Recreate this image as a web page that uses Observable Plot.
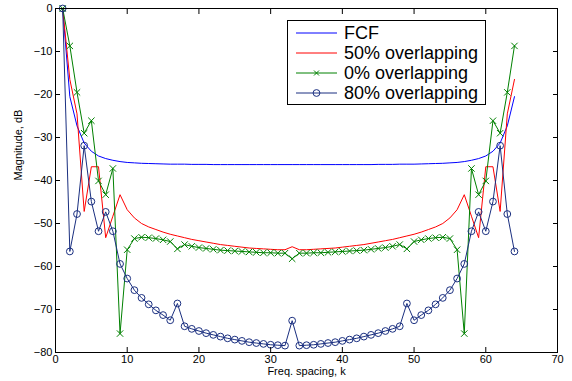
<!DOCTYPE html>
<html>
<head>
<meta charset="utf-8">
<script src="https://cdn.jsdelivr.net/npm/d3@7"></script>
<script src="https://cdn.jsdelivr.net/npm/@observablehq/plot@0.6"></script>
<style>
  body { margin: 0; background: #fff; }
  #wrap { position: relative; width: 572px; height: 381px; font-family: "Liberation Sans", Arial, sans-serif; }
</style>
</head>
<body>
<div id="wrap"></div>
<script>
// Frequency spacing index k = 1..64
const k = d3.range(1, 65);

// FCF (blue)
const fcf = [
  0, -20.5, -27.3, -31.3, -33.2, -34.3, -34.9, -35.3,
  -35.6, -35.8, -35.9, -36.0, -36.05, -36.1, -36.15, -36.2,
  -36.2, -36.2, -36.25, -36.25, -36.25, -36.3, -36.3, -36.3,
  -36.3, -36.3, -36.3, -36.3, -36.3, -36.3, -36.3, -36.3,
  -36.3, -36.3, -36.3, -36.3, -36.3, -36.3, -36.3, -36.3,
  -36.3, -36.3, -36.3, -36.3, -36.25, -36.25, -36.25, -36.2,
  -36.2, -36.2, -36.15, -36.1, -36.05, -36.0, -35.9, -35.8,
  -35.6, -35.3, -34.9, -34.3, -33.2, -31.3, -27.3, -20.5
];

// 50% overlapping (red)
const overlap50 = [
  0, -16.5, -24.5, -47.2, -36.8, -36.8, -53.3, -48.3,
  -43.3, -46.8, -48.7, -50.0, -50.8, -51.4, -52.0, -52.5,
  -52.9, -53.3, -53.7, -54.0, -54.3, -54.6, -54.9, -55.1,
  -55.3, -55.5, -55.7, -55.8, -55.9, -56.0, -56.1, -56.1,
  -55.4, -56.1, -56.1, -56.0, -55.9, -55.8, -55.7, -55.5,
  -55.3, -55.1, -54.9, -54.6, -54.3, -54.0, -53.7, -53.3,
  -52.9, -52.5, -52.0, -51.4, -50.8, -50.0, -48.7, -46.8,
  -43.3, -48.3, -53.3, -36.8, -36.8, -47.2, -24.5, -16.5
];

// 0% overlapping (green, x markers)
const overlap0 = [
  0, -8.7, -19.5, -29.0, -26.1, -40.1, -43.3, -37.2,
  -75.6, -56.1, -53.5, -53.2, -53.3, -53.5, -53.8, -54.2,
  -55.9, -54.9, -55.3, -55.6, -55.8, -56.0, -56.2, -56.3,
  -56.4, -56.5, -56.6, -56.7, -56.8, -56.8, -56.9, -56.9,
  -58.2, -56.9, -56.9, -56.8, -56.8, -56.7, -56.6, -56.5,
  -56.4, -56.3, -56.2, -56.0, -55.8, -55.6, -55.3, -54.9,
  -55.9, -54.2, -53.8, -53.5, -53.3, -53.2, -53.5, -56.1,
  -75.6, -37.2, -43.3, -40.1, -26.1, -29.0, -19.5, -8.7
];

// 80% overlapping (navy, circle markers)
const overlap80 = [
  0, -56.5, -47.8, -31.9, -44.9, -51.8, -47.3, -51.8,
  -59.4, -62.8, -65.5, -67.3, -68.8, -70.2, -71.3, -72.5,
  -68.6, -73.9, -74.5, -75.0, -75.5, -75.9, -76.3, -76.7,
  -77.0, -77.3, -77.6, -77.8, -78.0, -78.2, -78.3, -78.4,
  -72.6, -78.4, -78.3, -78.2, -78.0, -77.8, -77.6, -77.3,
  -77.0, -76.7, -76.3, -75.9, -75.5, -75.0, -74.5, -73.9,
  -68.6, -72.5, -71.3, -70.2, -68.8, -67.3, -65.5, -62.8,
  -59.4, -51.8, -47.3, -51.8, -44.9, -31.9, -47.8, -56.5
];

const seriesNames = ["FCF", "50% overlapping", "0% overlapping", "80% overlapping"];
const seriesColors = ["#0000ff", "#ff0000", "#008000", "#1a2f80"];
const xTicks = [0, 10, 20, 30, 40, 50, 60, 70];
const yTicks = [-80, -70, -60, -50, -40, -30, -20, -10, 0];
const xLabel = "Freq. spacing, k";
const yLabel = "Magnitude, dB";

const rows = vals => k.map((kk, i) => ({k: kk, v: vals[i]}));

const chart = Plot.plot({
  width: 572,
  height: 381,
  marginLeft: 55,
  marginRight: 15,
  marginTop: 8,
  marginBottom: 29,
  style: {fontFamily: "'Liberation Sans', Arial, sans-serif", fontSize: "11px", background: "#fff", color: "#000", overflow: "visible"},
  x: {domain: [0, 70]},
  y: {domain: [-80, 0]},
  marks: [
    Plot.line(rows(fcf), {x: "k", y: "v", stroke: seriesColors[0], strokeWidth: 1}),
    Plot.line(rows(overlap50), {x: "k", y: "v", stroke: seriesColors[1], strokeWidth: 1}),
    Plot.line(rows(overlap0), {x: "k", y: "v", stroke: seriesColors[2], strokeWidth: 1}),
    Plot.dot(rows(overlap0), {x: "k", y: "v", symbol: "times", r: 3, stroke: seriesColors[2], strokeWidth: 1}),
    Plot.line(rows(overlap80), {x: "k", y: "v", stroke: seriesColors[3], strokeWidth: 1}),
    Plot.dot(rows(overlap80), {x: "k", y: "v", symbol: "circle", r: 3.4, stroke: seriesColors[3], fill: "none", strokeWidth: 1}),
    Plot.frame({stroke: "#000", strokeWidth: 1}),
    Plot.axisX({ticks: xTicks, anchor: "bottom", tickSize: -5, tickPadding: 8, label: null}),
    Plot.axisX({ticks: xTicks, anchor: "top", tickSize: -5, tickFormat: () => "", label: null}),
    Plot.axisY({ticks: yTicks, anchor: "left", tickSize: -5, tickPadding: 8, label: null}),
    Plot.axisY({ticks: yTicks, anchor: "right", tickSize: -5, tickFormat: () => "", label: null}),
    Plot.text([yLabel], {text: d => d, frameAnchor: "left", rotate: -90, dx: -37, fontSize: 11}),
    Plot.text([xLabel], {text: d => d, frameAnchor: "bottom", dy: 22.5, fontSize: 11})
  ]
});

const wrap = d3.select("#wrap");
wrap.node().append(chart);

// Legend box (MATLAB style)
const lg = wrap.append("svg")
  .style("position", "absolute").style("left", "287px").style("top", "20px")
  .attr("width", 200).attr("height", 86)
  .style("font-family", "'Liberation Sans', Arial, sans-serif");
lg.append("rect").attr("x", 0.5).attr("y", 0.5).attr("width", 198).attr("height", 84)
  .attr("fill", "#fff").attr("stroke", "#000").attr("stroke-width", 1);
seriesNames.forEach((name, i) => {
  const cy = 13 + i * 20;
  const g = lg.append("g");
  g.append("line").attr("x1", 9).attr("x2", 50).attr("y1", cy).attr("y2", cy)
    .attr("stroke", seriesColors[i]).attr("stroke-width", 1);
  if (i === 2) {
    g.append("path").attr("d", `M${29.5-2.5},${cy-2.5}L${29.5+2.5},${cy+2.5}M${29.5-2.5},${cy+2.5}L${29.5+2.5},${cy-2.5}`)
      .attr("stroke", seriesColors[i]).attr("fill", "none");
  }
  if (i === 3) {
    g.append("circle").attr("cx", 29.5).attr("cy", cy).attr("r", 3.4)
      .attr("stroke", seriesColors[i]).attr("fill", "none");
  }
  g.append("text").attr("x", 57).attr("y", cy + 6.3).attr("font-size", 18).attr("fill", "#000").text(name);
});
</script>
</body>
</html>
